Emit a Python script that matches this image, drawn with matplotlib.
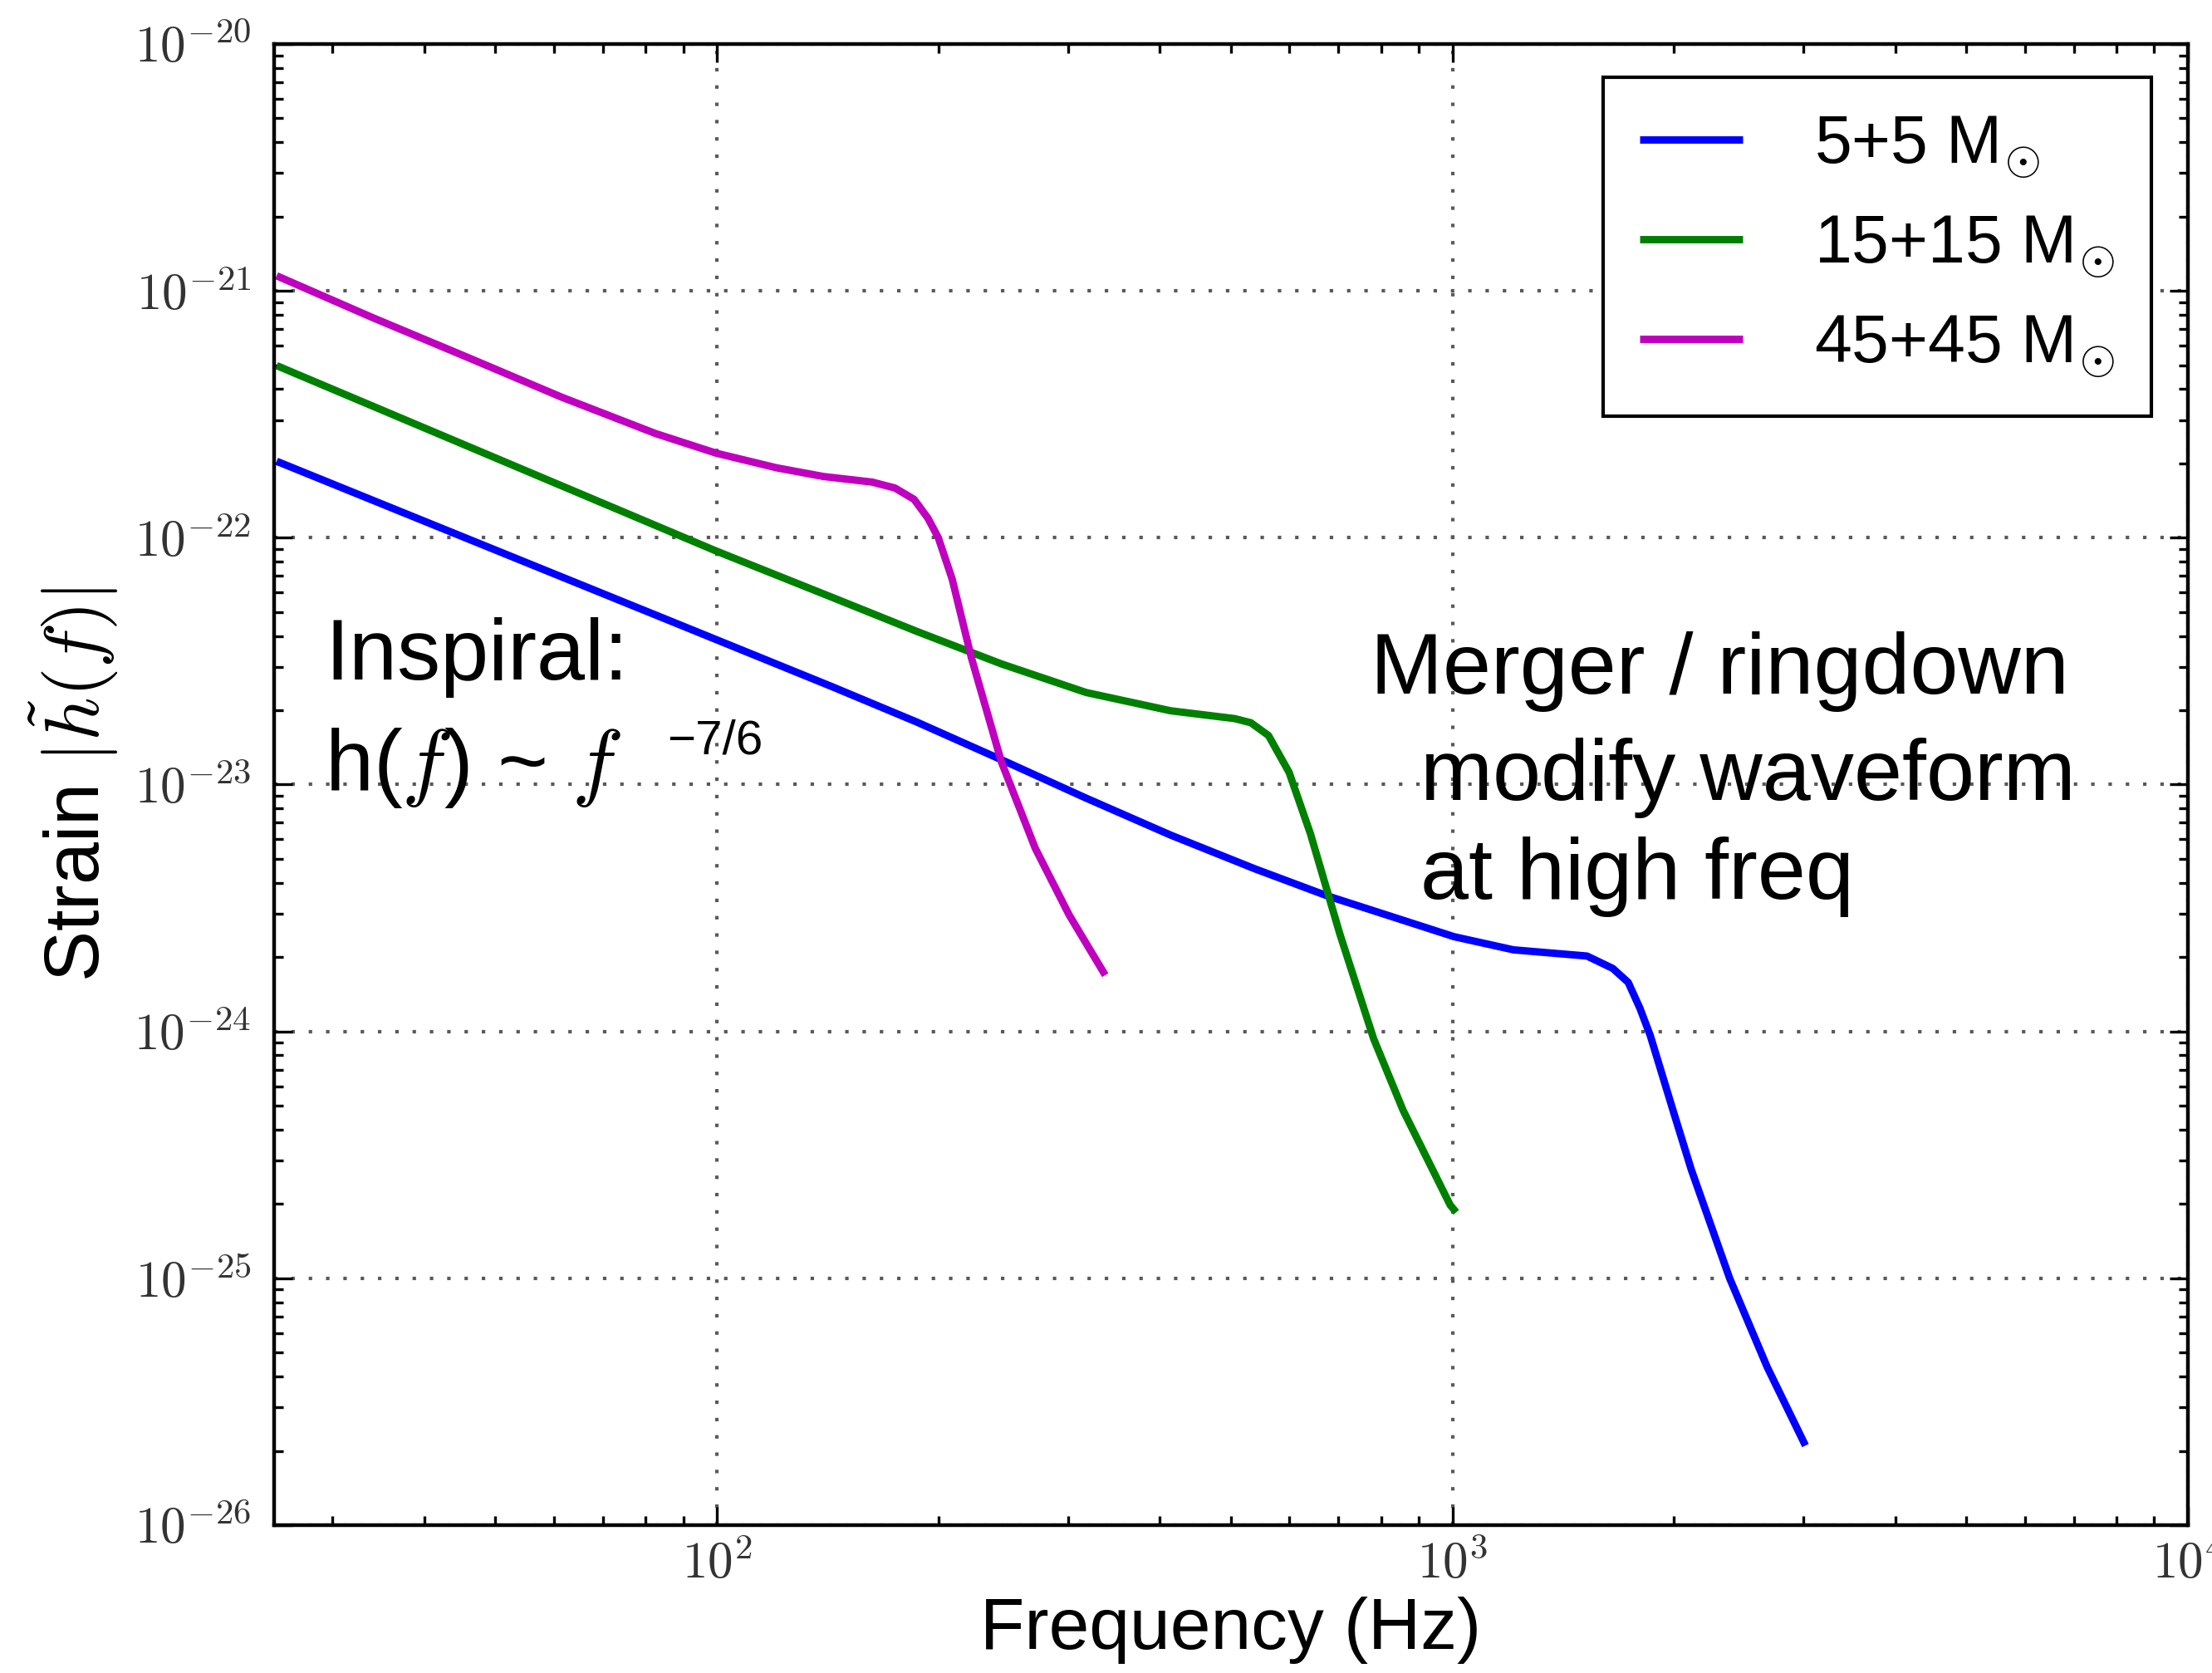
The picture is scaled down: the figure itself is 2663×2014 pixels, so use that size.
import numpy as np
import matplotlib
matplotlib.use("Agg")
import matplotlib.pyplot as plt
from matplotlib.ticker import LogLocator, FuncFormatter, NullFormatter

# values (Hz, strain)
FREQ_5 = [25.2, 89.5, 143.5, 187.1, 243.8, 317.7, 414.0, 539.5, 676.1, 857.0, 1005,
          1211, 1524, 1652, 1734, 1799, 1858, 1995, 2113, 2382, 2679, 3020]
STRAIN_5 = [2.04e-22, 4.41e-23, 2.49e-23, 1.79e-23, 1.26e-23, 8.81e-24, 6.24e-24,
            4.55e-24, 3.54e-24, 2.82e-24, 2.42e-24, 2.14e-24, 2.02e-24, 1.80e-24,
            1.58e-24, 1.24e-24, 9.62e-25, 4.79e-25, 2.75e-25, 1.00e-25, 4.37e-26,
            2.10e-26]

FREQ_15 = [25.2, 99.8, 143.5, 187.1, 243.8, 317.7, 414.0, 505.8, 532.1, 562.3, 599.8,
           641.2, 703.1, 781.6, 857.0, 993.1, 1012]
STRAIN_15 = [4.98e-22, 8.83e-23, 5.73e-23, 4.17e-23, 3.08e-23, 2.36e-23, 1.99e-23,
             1.85e-23, 1.78e-23, 1.58e-23, 1.12e-23, 6.32e-24, 2.48e-24, 9.33e-25,
             4.79e-25, 1.98e-25, 1.85e-25]

FREQ_45 = [25.2, 34.0, 45.8, 61.5, 82.6, 99.8, 120.5, 139.6, 162.6, 174.6, 185.4,
           193.6, 200.0, 208.9, 221.8, 243.8, 271.0, 301.3, 337.3]
STRAIN_45 = [1.151e-21, 7.80e-22, 5.38e-22, 3.71e-22, 2.64e-22, 2.20e-22, 1.92e-22,
             1.77e-22, 1.68e-22, 1.59e-22, 1.43e-22, 1.20e-22, 1.00e-22, 6.79e-23,
             3.27e-23, 1.23e-23, 5.51e-24, 2.96e-24, 1.69e-24]

LABELS = [r'5+5 M$_{\odot}$', r'15+15 M$_{\odot}$', r'45+45 M$_{\odot}$']
COLORS = ['#0000ff', '#008000', '#bf00bf']

plt.rcParams['font.family'] = ['Liberation Sans', 'DejaVu Sans']
plt.rcParams['mathtext.fontset'] = 'cm'

fig = plt.figure(figsize=(13.315, 10.07), dpi=200)
ax = fig.add_axes([0.1239, 0.0884, 0.8652, 0.8853])

series = [(FREQ_5, STRAIN_5), (FREQ_15, STRAIN_15), (FREQ_45, STRAIN_45)]
for (f, h), lab, col in zip(series, LABELS, COLORS):
    ax.loglog(f, h, color=col, lw=3.2, label=lab, solid_capstyle='butt',
              solid_joinstyle='round')

ax.set_xlim(25, 1e4)
ax.set_ylim(1e-26, 1e-20)

ax.xaxis.set_major_locator(LogLocator(base=10, numticks=10))
ax.yaxis.set_major_locator(LogLocator(base=10, numticks=10))
ax.xaxis.set_minor_locator(LogLocator(base=10, subs=np.arange(2, 10), numticks=20))
ax.yaxis.set_minor_locator(LogLocator(base=10, subs=np.arange(2, 10), numticks=20))
fmt = FuncFormatter(lambda v, p: r'$10^{%d}$' % round(np.log10(v)))
ax.xaxis.set_major_formatter(fmt)
ax.yaxis.set_major_formatter(fmt)
ax.xaxis.set_minor_formatter(NullFormatter())
ax.yaxis.set_minor_formatter(NullFormatter())

ax.tick_params(which='both', direction='in', top=True, right=True, width=1.2,
               colors='black', labelcolor='0.2')
ax.tick_params(which='major', length=8, labelsize=22)
ax.tick_params(which='minor', length=4)
ax.tick_params(axis='x', pad=7)
ax.tick_params(axis='y', pad=10)
for sp in ax.spines.values():
    sp.set_linewidth(1.6)

ax.grid(True, which='major', linestyle=(0, (1, 4)), color='0.35', linewidth=1.5)

ax.set_xlabel('Frequency (Hz)', fontsize=31.5, labelpad=3)
ax.set_ylabel(r'Strain $|\tilde{h}(f)|$', fontsize=33, labelpad=6)

leg = ax.legend(loc='upper right', bbox_to_anchor=(0.981, 0.9776), borderaxespad=0,
                fontsize=29, fancybox=False, framealpha=1, edgecolor='black',
                handlelength=1.54, handletextpad=1.07, labelspacing=0.5,
                borderpad=0.55)
leg.get_frame().set_linewidth(1.5)

fig.text(0.1468, 0.5938, 'Inspiral:', fontsize=37.6, va='baseline')
fig.text(0.1468, 0.5278, r'h($f$) ~ $f$', fontsize=37.6, va='baseline')
fig.text(0.3015, 0.5492, '\u22127/6', fontsize=21, va='baseline')

fig.text(0.6196, 0.5854, 'Merger / ringdown', fontsize=37.6, va='baseline')
fig.text(0.6421, 0.5218, 'modify waveform', fontsize=37.6, va='baseline')
fig.text(0.6421, 0.4628, 'at high freq', fontsize=37.6, va='baseline')

fig.savefig('out.png', dpi=200)
